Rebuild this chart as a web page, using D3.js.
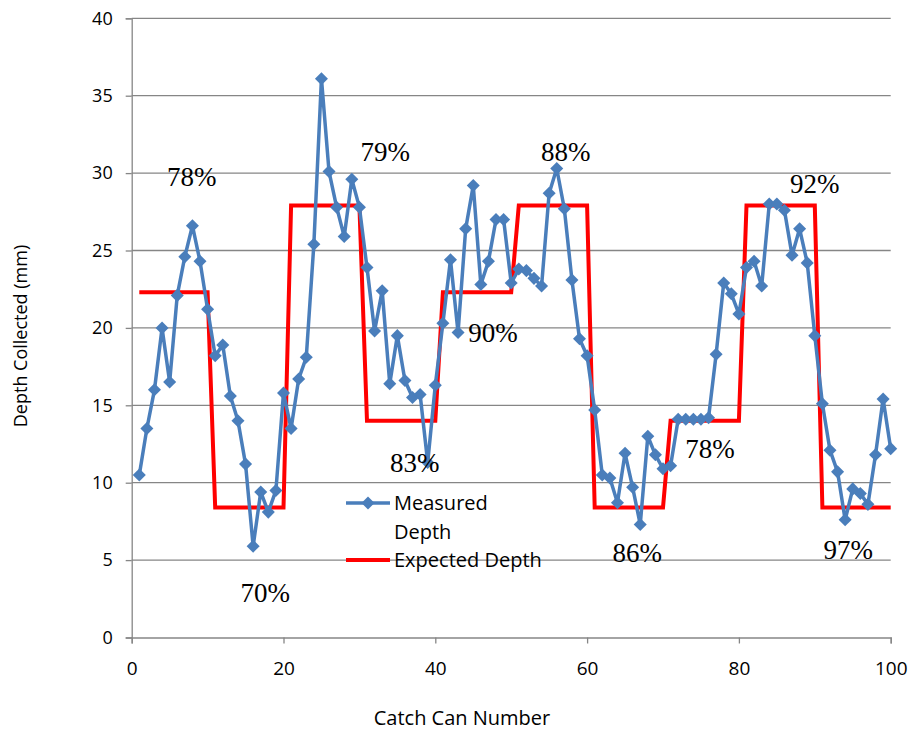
<!DOCTYPE html>
<html>
<head>
<meta charset="utf-8">
<script src="https://cdn.jsdelivr.net/npm/d3@7"></script>
<style>
  body { margin: 0; background: #fff; }
  .tick text { fill: #000; }
</style>
</head>
<body>
<svg id="chart" width="911" height="732"></svg>
<script>
// catch can numbers 1..100
const canNumbers = d3.range(1, 101)

const measuredDepth = [
  10.5, 13.5, 16.0, 20.0, 16.5, 22.1, 24.6, 26.6, 24.3, 21.2,
  18.2, 18.9, 15.6, 14.0, 11.2, 5.9, 9.4, 8.1, 9.5, 15.8,
  13.5, 16.7, 18.1, 25.4, 36.1, 30.1, 27.8, 25.9, 29.6, 27.8,
  23.9, 19.8, 22.4, 16.4, 19.5, 16.6, 15.5, 15.7, 11.3, 16.3,
  20.3, 24.4, 19.7, 26.4, 29.2, 22.8, 24.3, 27.0, 27.0, 22.9,
  23.8, 23.7, 23.2, 22.7, 28.7, 30.3, 27.7, 23.1, 19.3, 18.2,
  14.7, 10.5, 10.3, 8.7, 11.9, 9.7, 7.3, 13.0, 11.8, 10.9,
  11.1, 14.1, 14.1, 14.1, 14.1, 14.2, 18.3, 22.9, 22.2, 20.9,
  23.9, 24.3, 22.7, 28.0, 28.0, 27.6, 24.7, 26.4, 24.2, 19.5,
  15.1, 12.1, 10.7, 7.6, 9.6, 9.3, 8.6, 11.8, 15.4, 12.2
]

const expectedDepth = [
  22.3, 22.3, 22.3, 22.3, 22.3, 22.3, 22.3, 22.3, 22.3, 22.3,
  8.4, 8.4, 8.4, 8.4, 8.4, 8.4, 8.4, 8.4, 8.4, 8.4,
  27.9, 27.9, 27.9, 27.9, 27.9, 27.9, 27.9, 27.9, 27.9, 27.9,
  14.0, 14.0, 14.0, 14.0, 14.0, 14.0, 14.0, 14.0, 14.0, 14.0,
  22.3, 22.3, 22.3, 22.3, 22.3, 22.3, 22.3, 22.3, 22.3, 22.3,
  27.9, 27.9, 27.9, 27.9, 27.9, 27.9, 27.9, 27.9, 27.9, 27.9,
  8.4, 8.4, 8.4, 8.4, 8.4, 8.4, 8.4, 8.4, 8.4, 8.4,
  14.0, 14.0, 14.0, 14.0, 14.0, 14.0, 14.0, 14.0, 14.0, 14.0,
  27.9, 27.9, 27.9, 27.9, 27.9, 27.9, 27.9, 27.9, 27.9, 27.9,
  8.4, 8.4, 8.4, 8.4, 8.4, 8.4, 8.4, 8.4, 8.4, 8.4
]

// efficiency annotations, placed in data units
const effLabels = ['78%', '70%', '79%', '83%', '90%', '88%', '86%', '78%', '92%', '97%']
const effX = [7.9, 17.6, 33.4, 37.3, 47.6, 57.2, 66.6, 76.2, 90.0, 94.4]
const effY = [29.8, 2.9, 31.4, 11.3, 19.7, 31.4, 5.5, 12.2, 29.3, 5.7]

const xTicks = [0, 20, 40, 60, 80, 100]
const yTicks = [0, 5, 10, 15, 20, 25, 30, 35, 40]

const svg = d3.select('#chart')
const margin = {top: 18.3, right: 20.3, bottom: 94.5, left: 131.7}
const width = 911 - margin.left - margin.right
const height = 732 - margin.top - margin.bottom
const axisColor = '#868686'

const x = d3.scaleLinear().domain([0, 100]).range([0, width])
const y = d3.scaleLinear().domain([0, 40]).range([height, 0])

const g = svg.append('g')
  .attr('transform', `translate(${margin.left}, ${margin.top})`)

// gridlines
g.append('g')
  .selectAll('line')
  .data(yTicks.filter(d => d > 0))
  .join('line')
  .attr('x1', 0)
  .attr('x2', width)
  .attr('y1', d => y(d))
  .attr('y2', d => y(d))
  .attr('stroke', axisColor)
  .attr('stroke-width', 1.3)

// y axis
const yAxis = g.append('g')
  .call(d3.axisLeft(y).tickValues(yTicks).tickSize(6).tickPadding(13))
yAxis.select('.domain').attr('stroke', axisColor).attr('stroke-width', 1.3)
yAxis.selectAll('.tick line').attr('stroke', axisColor).attr('stroke-width', 1.3)
yAxis.selectAll('.tick text')
  .style('font-family', '"Open Sans", sans-serif')
  .style('font-size', '18px')

// x axis
const xAxis = g.append('g')
  .attr('transform', `translate(0, ${height})`)
  .call(d3.axisBottom(x).tickValues(xTicks).tickSize(6).tickPadding(18))
xAxis.select('.domain').attr('stroke', axisColor).attr('stroke-width', 1.3)
xAxis.selectAll('.tick line').attr('stroke', axisColor).attr('stroke-width', 1.3)
xAxis.selectAll('.tick text')
  .style('font-family', '"Open Sans", sans-serif')
  .style('font-size', '19px')

// axis titles
svg.append('text')
  .attr('x', 462)
  .attr('y', 725)
  .attr('text-anchor', 'middle')
  .style('font-family', '"Open Sans", sans-serif')
  .style('font-size', '20px')
  .text('Catch Can Number')

svg.append('text')
  .attr('transform', 'translate(27, 336) rotate(-90)')
  .attr('text-anchor', 'middle')
  .style('font-family', '"Open Sans", sans-serif')
  .style('font-size', '18px')
  .text('Depth Collected (mm)')

// expected depth
const expectedLine = d3.line()
  .x((d, i) => x(canNumbers[i]))
  .y(d => y(d))

g.append('path')
  .datum(expectedDepth)
  .attr('fill', 'none')
  .attr('stroke', '#ff0000')
  .attr('stroke-width', 4)
  .attr('stroke-linejoin', 'miter')
  .attr('d', expectedLine)

// measured depth
const measuredLine = d3.line()
  .x((d, i) => x(canNumbers[i]))
  .y(d => y(d))

g.append('path')
  .datum(measuredDepth)
  .attr('fill', 'none')
  .attr('stroke', '#4a7ebb')
  .attr('stroke-width', 3.5)
  .attr('stroke-linejoin', 'round')
  .attr('d', measuredLine)

const diamond = d3.symbol(d3.symbolSquare, 85)

g.append('g')
  .selectAll('path')
  .data(measuredDepth)
  .join('path')
  .attr('d', diamond)
  .attr('transform', (d, i) => `translate(${x(canNumbers[i])}, ${y(d)}) rotate(45)`)
  .attr('fill', '#4a7ebb')

// efficiency labels
g.append('g')
  .selectAll('text')
  .data(effLabels)
  .join('text')
  .attr('x', (d, i) => x(effX[i]))
  .attr('y', (d, i) => y(effY[i]))
  .attr('dy', '0.35em')
  .attr('text-anchor', 'middle')
  .style('font-family', '"Liberation Serif", "Times New Roman", serif')
  .style('font-size', '27px')
  .text(d => d)

// legend
const legend = svg.append('g').attr('transform', 'translate(346, 503)')
const legendFont = '"Open Sans", sans-serif'

legend.append('line')
  .attr('x1', 0).attr('x2', 44).attr('y1', 0).attr('y2', 0)
  .attr('stroke', '#4a7ebb').attr('stroke-width', 3.5)
legend.append('path')
  .attr('d', diamond)
  .attr('transform', 'translate(22, 0) rotate(45)')
  .attr('fill', '#4a7ebb')
legend.append('text')
  .attr('x', 48).attr('y', 0).attr('dy', '0.35em')
  .style('font-family', legendFont).style('font-size', '20px')
  .text('Measured')
legend.append('text')
  .attr('x', 48).attr('y', 29).attr('dy', '0.35em')
  .style('font-family', legendFont).style('font-size', '20px')
  .text('Depth')

legend.append('line')
  .attr('x1', 0).attr('x2', 44).attr('y1', 57).attr('y2', 57)
  .attr('stroke', '#ff0000').attr('stroke-width', 4)
legend.append('text')
  .attr('x', 48).attr('y', 57).attr('dy', '0.35em')
  .style('font-family', legendFont).style('font-size', '20px')
  .text('Expected Depth')
</script>
</body>
</html>
